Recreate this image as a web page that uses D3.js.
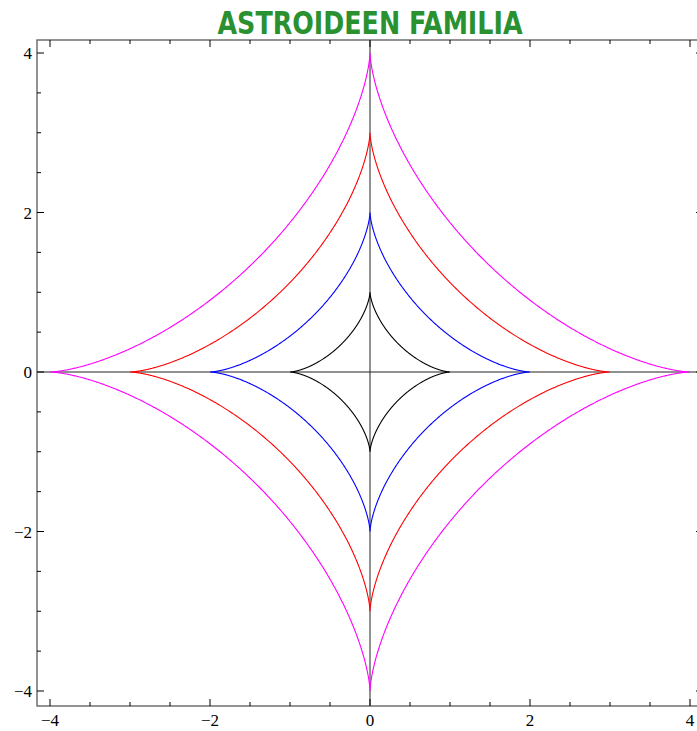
<!DOCTYPE html>
<html><head><meta charset="utf-8">
<script src="https://cdn.jsdelivr.net/npm/d3@7"></script>
<style>body{margin:0;background:#fff}svg{display:block}</style>
</head><body>
<svg id="c" width="697" height="731"></svg>
<script>
// Family of astroids x = a cos^3 t, y = a sin^3 t
const radii = [1, 2, 3, 4];
const curveColors = ["#000000", "#0000ff", "#ff0000", "#ff00ff"];
const majorTicks = [-4, -2, 0, 2, 4];
const tickLabels = ["\u22124", "\u22122", "0", "2", "4"];
const minorTicks = [-4, -3.5, -3, -2.5, -2, -1.5, -1, -0.5, 0, 0.5, 1, 1.5, 2, 2.5, 3, 3.5, 4];
const title = "ASTROIDEEN FAMILIA";

(function () {
const svg = d3.select("#c");
const x = d3.scaleLinear().domain([-4, 4]).range([50, 690]);
const y = d3.scaleLinear().domain([-4, 4]).range([691, 53]);
const fL = 37, fT = 40, fB = 706, fR = 703;

// axes through origin
svg.append("line").attr("x1", fL).attr("x2", fR).attr("y1", y(0)).attr("y2", y(0))
  .attr("stroke", "#222").attr("stroke-width", 1);
svg.append("line").attr("x1", x(0)).attr("x2", x(0)).attr("y1", fT).attr("y2", fB)
  .attr("stroke", "#222").attr("stroke-width", 1);

// curves
const ts = d3.range(0, 2 * Math.PI + 0.0005, Math.PI / 720);
const line = d3.line().x(d => x(d[0])).y(d => y(d[1]));
radii.forEach((a, i) => {
  const pts = ts.map(t => [a * Math.pow(Math.cos(t), 3), a * Math.pow(Math.sin(t), 3)]);
  svg.append("path").attr("d", line(pts)).attr("fill", "none")
    .attr("stroke", curveColors[i]).attr("stroke-width", 1.1);
});

// frame
svg.append("rect").attr("x", fL).attr("y", fT).attr("width", fR - fL).attr("height", fB - fT)
  .attr("fill", "none").attr("stroke", "#666").attr("stroke-width", 1.4);

// ticks (inward)
const isMajor = v => majorTicks.includes(v);
const tk = svg.append("g").attr("stroke", "#000").attr("stroke-width", 1);
minorTicks.forEach(v => {
  const L = isMajor(v) ? 7 : 4;
  tk.append("line").attr("x1", x(v)).attr("x2", x(v)).attr("y1", fB).attr("y2", fB - L);
  tk.append("line").attr("x1", x(v)).attr("x2", x(v)).attr("y1", fT).attr("y2", fT + L);
  tk.append("line").attr("y1", y(v)).attr("y2", y(v)).attr("x1", fL).attr("x2", fL + L);
  tk.append("line").attr("y1", y(v)).attr("y2", y(v)).attr("x1", fR).attr("x2", fR - L);
});

// tick labels
const serif = "'Liberation Serif', 'DejaVu Serif', serif";
majorTicks.forEach((v, i) => {
  svg.append("text").attr("x", x(v)).attr("y", fB + 20).attr("text-anchor", "middle")
    .style("font-family", serif).style("font-size", "17px").attr("fill", "#000").text(tickLabels[i]);
  svg.append("text").attr("x", fL - 5).attr("y", y(v) + 6).attr("text-anchor", "end")
    .style("font-family", serif).style("font-size", "17px").attr("fill", "#000").text(tickLabels[i]);
});

// title
svg.append("text").attr("x", 370).attr("y", 34).attr("text-anchor", "middle")
  .style("font-family", "'Liberation Sans Narrow', 'DejaVu Sans Condensed', sans-serif")
  .style("font-weight", "600").style("font-size", "32px").attr("fill", "#2a9130")
  .attr("textLength", 305).attr("lengthAdjust", "spacingAndGlyphs").text(title);
})();
</script>
</body></html>
